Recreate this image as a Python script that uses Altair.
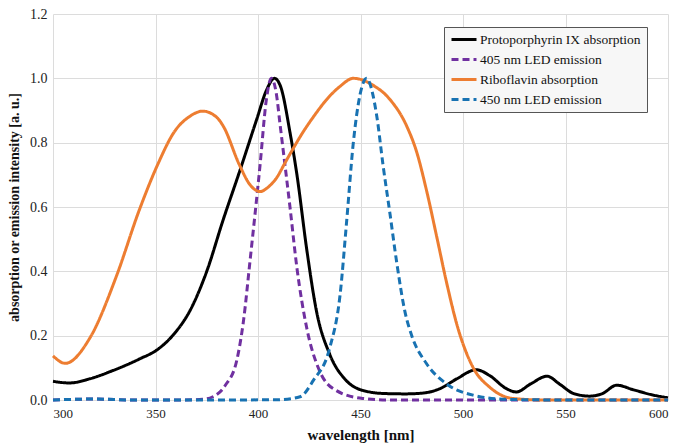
import altair as alt
import pandas as pd

series_names = ["Protoporphyrin IX absorption", "405 nm LED emission",
                "Riboflavin absorption", "450 nm LED emission"]
series_colors = ["#000000", "#7030A0", "#ED7D31", "#1872B2"]

ppix_x = [300, 308, 318, 329, 342, 351, 359, 367, 375, 383, 391, 399.4, 404.2, 408, 411, 415.6, 419, 423.8, 428.6,
          435, 443, 451, 462, 472, 481, 489, 497, 506.5, 513, 521, 526, 533, 541, 547, 554, 562, 568, 575, 583, 593, 600]
ppix_y = [0.058, 0.053, 0.066, 0.091, 0.127, 0.157, 0.205, 0.28, 0.40, 0.56, 0.71, 0.873, 0.964, 1.0, 0.975, 0.832,
          0.70, 0.467, 0.274, 0.142, 0.061, 0.03, 0.02, 0.019, 0.022, 0.036, 0.066, 0.094, 0.076, 0.036, 0.025, 0.05,
          0.074, 0.05, 0.02, 0.012, 0.02, 0.046, 0.032, 0.015, 0.007]

led405_x = [300, 320, 340, 360, 373, 378, 384, 389.6, 393, 396, 401, 404, 406.5, 409, 410.7, 415.6, 419, 423.8, 430,
            438, 451, 465, 500, 550, 600]
led405_y = [0.0, 0.003, 0.0, 0.0, 0.002, 0.01, 0.045, 0.122, 0.25, 0.426, 0.73, 0.93, 1.0, 0.95, 0.86, 0.60, 0.41,
            0.223, 0.091, 0.03, 0.005, 0.0, 0.0, 0.0, 0.0]

ribo_x = [300, 306, 318, 331, 342, 351, 359, 367, 373, 380, 383, 391, 396, 401, 405, 409, 413, 417, 421, 427, 435,
          440, 446.5, 456, 464.4, 472.5, 477.4, 482.3, 487.2, 492, 497, 505, 513, 524, 540, 570, 600]
ribo_y = [0.137, 0.114, 0.193, 0.386, 0.589, 0.731, 0.832, 0.883, 0.898, 0.878, 0.852, 0.73, 0.67, 0.648, 0.662, 0.69,
          0.735, 0.78, 0.823, 0.88, 0.945, 0.975, 1.0, 0.979, 0.934, 0.852, 0.771, 0.649, 0.507, 0.365, 0.235, 0.10,
          0.04, 0.005, 0.0, 0.0, 0.0]

led450_x = [300, 320, 340, 380, 410, 420.5, 427, 435, 440, 443.3, 446.5, 449.8, 453, 456, 458, 461, 464.4, 467.7,
            471.7, 475, 482, 492, 505, 521, 550, 600]
led450_y = [0.0, 0.003, 0.0, 0.0, 0.001, 0.01, 0.061, 0.162, 0.325, 0.56, 0.80, 0.95, 1.0, 0.95, 0.88, 0.73, 0.578,
            0.426, 0.274, 0.20, 0.115, 0.05, 0.015, 0.002, 0.0, 0.0]

x_ticks = [300, 350, 400, 450, 500, 550, 600]
y_ticks = [0.0, 0.2, 0.4, 0.6, 0.8, 1.0, 1.2]

rows = []
for name, xs, ys in [(series_names[0], ppix_x, ppix_y), (series_names[1], led405_x, led405_y),
                     (series_names[2], ribo_x, ribo_y), (series_names[3], led450_x, led450_y)]:
    for i, (xv, yv) in enumerate(zip(xs, ys)):
        rows.append({"series": name, "wavelength": xv, "value": yv, "idx": i})
df = pd.DataFrame(rows)

FONT = "Liberation Serif"

legend_kw = dict(title=None, orient="none", legendX=391, legendY=13)

chart = alt.Chart(df).mark_line(strokeWidth=3, interpolate="monotone").encode(
    x=alt.X("wavelength:Q", scale=alt.Scale(domain=[300, 600], nice=False),
            axis=alt.Axis(values=x_ticks, title="wavelength [nm]", format="d")),
    y=alt.Y("value:Q", scale=alt.Scale(domain=[0, 1.2], nice=False),
            axis=alt.Axis(values=y_ticks, format=".1f", title="absorption or emission intensity [a. u.]")),
    color=alt.Color("series:N", scale=alt.Scale(domain=series_names, range=series_colors),
                    legend=alt.Legend(**legend_kw)),
    strokeDash=alt.StrokeDash("series:N", scale=alt.Scale(domain=series_names,
                                                         range=[[1, 0], [7, 4], [1, 0], [7, 4]]),
                              legend=alt.Legend(**legend_kw)),
    order="idx:Q",
).properties(
    width=615, height=386,
    autosize=alt.AutoSizeParams(type="none"),
    padding={"left": 45, "top": 6, "right": 4, "bottom": 46},
).configure(font=FONT).configure_view(stroke=None).configure_axis(
    grid=True, gridColor="#dcdcdc", gridWidth=1, domain=False, ticks=False,
    labelFont=FONT, titleFont=FONT, labelColor="#222", titleColor="#111",
).configure_axisX(
    labelFontSize=13, labelPadding=7, titleFontSize=15, titleFontWeight="bold", titlePadding=7,
).configure_axisY(
    labelFontSize=14, labelPadding=6, titleFontSize=14, titleFontWeight="bold", titlePadding=8,
).configure_legend(
    labelFont=FONT, labelFontSize=13.5, labelColor="#111", symbolType="stroke", symbolSize=625,
    symbolStrokeWidth=3, strokeColor="#555", fillColor="#f7f7f7", padding=6, rowPadding=6,
    clipHeight=13, labelOffset=2, labelLimit=300,
)

chart.save("out.html", embed_options={"renderer": "svg", "actions": False})
